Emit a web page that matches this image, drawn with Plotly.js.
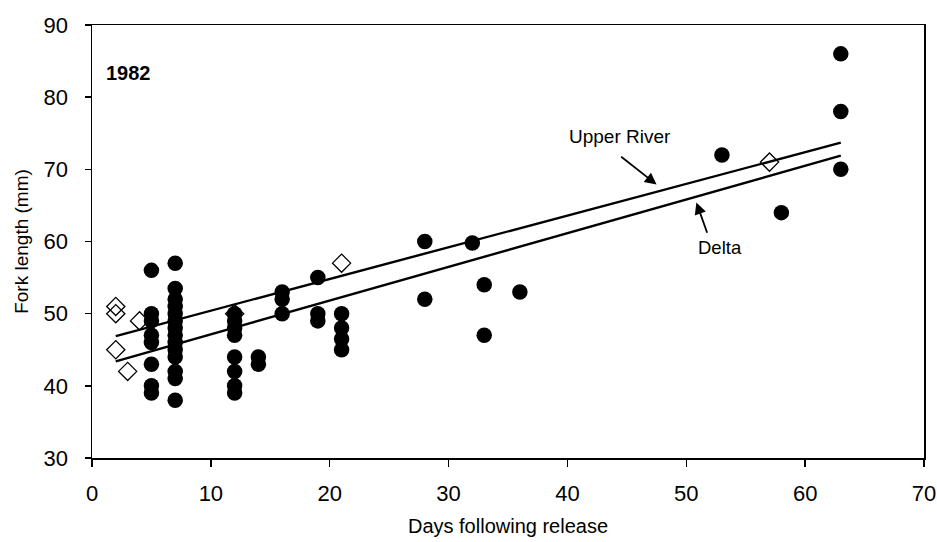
<!DOCTYPE html>
<html>
<head>
<meta charset="utf-8">
<script src="https://cdn.plot.ly/plotly-3.0.1.min.js"></script>
<style>
  html, body { margin: 0; padding: 0; background: #fff; }
  #chart { width: 937px; height: 542px; }
</style>
</head>
<body>
<div id="chart"></div>
<script>
// Filled circles
const filledDays = [
  5,5,5,5,5,5,5,5,
  7,7,7,7,7,7,7,7,7,7,7,7,7,7,
  12,12,12,12,12,12,12,12,
  14,14,
  16,16,16,
  19,19,19,
  21,21,21,21,
  28,28,
  32,
  33,33,
  36,
  53,
  58,
  63,63,63
];
const filledLengths = [
  56,50,49,47,46,43,40,39,
  57,53.5,52,51,50,49,48,47,46,45,44,42,41,38,
  50,49,48,47,44,42,40,39,
  44,43,
  53,52,50,
  55,50,49,
  50,48,46.5,45,
  60,52,
  59.8,
  54,47,
  53,
  72,
  64,
  86,78,70
];
// Open diamonds
const openDays = [2, 2, 2, 3, 4, 12, 21, 57];
const openLengths = [51, 50, 45, 42, 49, 50, 57, 71];

// Regression lines (end points)
const upperDays = [2, 63];
const upperLengths = [46.9, 73.7];
const deltaDays = [2, 63];
const deltaLengths = [43.4, 71.9];

const xTicks = [0, 10, 20, 30, 40, 50, 60, 70];
const yTicks = [30, 40, 50, 60, 70, 80, 90];

const FONT = 'Liberation Sans, Arial, Helvetica, sans-serif';

const traces = [
  {
    x: upperDays, y: upperLengths, mode: 'lines', name: 'Upper River',
    line: { color: '#000', width: 2.4 }, hoverinfo: 'skip'
  },
  {
    x: deltaDays, y: deltaLengths, mode: 'lines', name: 'Delta',
    line: { color: '#000', width: 2.4 }, hoverinfo: 'skip'
  },
  {
    x: filledDays, y: filledLengths, mode: 'markers', name: 'filled',
    marker: { symbol: 'circle', size: 15.5, color: '#000', line: { width: 0 } }
  },
  {
    x: openDays, y: openLengths, mode: 'markers', name: 'open',
    marker: { symbol: 'diamond-open', size: 14, color: '#000', line: { width: 1.3, color: '#000' } }
  }
];

const layout = {
  width: 937, height: 542,
  margin: { l: 92, r: 13, t: 25, b: 84 },
  paper_bgcolor: '#fff', plot_bgcolor: '#fff',
  showlegend: false,
  font: { family: FONT, color: '#000' },
  xaxis: {
    range: [0, 70], tickvals: xTicks, ticktext: xTicks.map(String),
    ticks: 'outside', ticklen: 7, tickwidth: 1.5, tickcolor: '#000',
    showline: true, linecolor: '#000', linewidth: 1.5, mirror: true,
    showgrid: false, zeroline: false,
    tickfont: { family: FONT, size: 22, color: '#000' },
    ticklabelstandoff: 8,
    title: { text: 'Days following release', font: { family: FONT, size: 20, color: '#000' }, standoff: 14 }
  },
  yaxis: {
    range: [30, 90], tickvals: yTicks, ticktext: yTicks.map(String),
    ticks: 'outside', ticklen: 6, tickwidth: 1.5, tickcolor: '#000',
    showline: true, linecolor: '#000', linewidth: 1.5, mirror: true,
    showgrid: false, zeroline: false,
    tickfont: { family: FONT, size: 22, color: '#000' },
    ticklabelstandoff: 12,
    title: { text: 'Fork length (mm)', font: { family: FONT, size: 19, color: '#000' }, standoff: 10 }
  },
  annotations: [
    {
      x: 3.1, y: 83.3, xref: 'x', yref: 'y', text: '<b>1982</b>', showarrow: false,
      font: { family: FONT, size: 20, color: '#000' }, xanchor: 'center', yanchor: 'middle'
    },
    {
      x: 47.5, y: 67.9, ax: 44.4, ay: 71.9, axref: 'x', ayref: 'y', xref: 'x', yref: 'y',
      text: '', showarrow: true, arrowhead: 2, arrowsize: 1.3, arrowwidth: 1.8, arrowcolor: '#000'
    },
    {
      x: 44.4, y: 74.5, xref: 'x', yref: 'y', text: 'Upper River', showarrow: false,
      font: { family: FONT, size: 19, color: '#000' }, xanchor: 'center', yanchor: 'middle'
    },
    {
      x: 50.85, y: 65.4, ax: 51.8, ay: 61.0, axref: 'x', ayref: 'y', xref: 'x', yref: 'y',
      text: '', showarrow: true, arrowhead: 2, arrowsize: 1.3, arrowwidth: 1.8, arrowcolor: '#000'
    },
    {
      x: 52.8, y: 59.2, xref: 'x', yref: 'y', text: 'Delta', showarrow: false,
      font: { family: FONT, size: 18.5, color: '#000' }, xanchor: 'center', yanchor: 'middle'
    }
  ]
};

Plotly.newPlot('chart', traces, layout, { staticPlot: true, displayModeBar: false });
</script>
</body>
</html>
